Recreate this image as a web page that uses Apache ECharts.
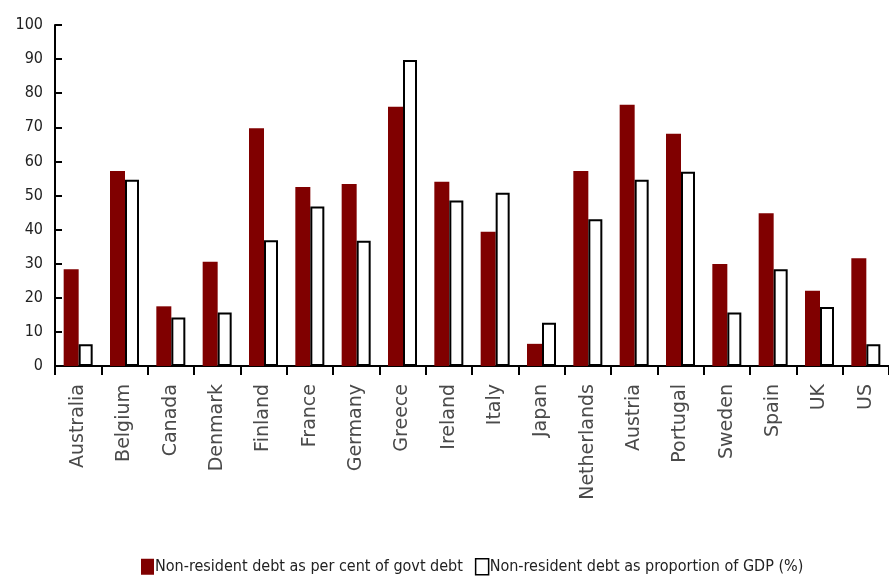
<!DOCTYPE html>
<html>
<head>
<meta charset="utf-8">
<script src="https://cdn.jsdelivr.net/npm/echarts@6/dist/echarts.min.js"></script>
<style>
html,body{margin:0;padding:0;background:#fff;}
#chart{width:889px;height:576px;}
</style>
</head>
<body>
<div id="chart"></div>
<script>
const categories = ["Australia","Belgium","Canada","Denmark","Finland","France","Germany","Greece","Ireland","Italy","Japan","Netherlands","Austria","Portugal","Sweden","Spain","UK","US"];
const pctGovtDebt = [28.4,57.2,17.5,30.6,69.7,52.5,53.4,76.0,54.0,39.4,6.5,57.2,76.6,68.1,29.9,44.8,22.1,31.6];
const pctGDP = [6.4,54.6,14.2,15.7,36.9,46.8,36.7,89.7,48.5,50.8,12.7,43.0,54.6,57.0,15.7,28.4,17.3,6.4];
const seriesNames = ["Non-resident debt as per cent of govt debt","Non-resident debt as proportion of GDP (%)"];

const chart = echarts.init(document.getElementById('chart'));
const narrow = '"DejaVu Sans Condensed", "Liberation Sans Narrow", sans-serif';
chart.setOption({
  animation: false,
  backgroundColor: '#fff',
  grid: {left: 55, right: -8, top: 25, bottom: 210, containLabel: false},
  legend: {
    top: 553, left: 136,
    itemWidth: 13, itemHeight: 16, itemGap: 12, icon: 'rect',
    textStyle: {fontFamily: narrow, fontSize: 16, color: '#222', padding: [0,0,0,-4]},
    data: [
      {name: seriesNames[0], itemStyle: {color: '#800000', borderWidth: 0}},
      {name: seriesNames[1], itemStyle: {color: '#fff', borderColor: '#000', borderWidth: 1.5}}
    ]
  },
  xAxis: {
    type: 'category',
    data: categories,
    axisLine: {lineStyle: {color: '#000', width: 2}},
    axisTick: {show: true, length: 9, lineStyle: {color: '#000', width: 2}},
    axisLabel: {rotate: 90, interval: 0, margin: 18, fontFamily: 'DejaVu Sans, sans-serif', fontSize: 19, color: '#4a4a4a'}
  },
  yAxis: {
    type: 'value', min: 0, max: 100, interval: 10,
    splitLine: {show: false},
    axisLine: {show: true, lineStyle: {color: '#000', width: 2}},
    axisTick: {show: true, inside: true, length: 7, lineStyle: {color: '#000', width: 2}},
    axisLabel: {margin: 12, fontFamily: narrow, fontSize: 16, color: '#222'}
  },
  series: [
    {name: seriesNames[0], type: 'bar', data: pctGovtDebt, barWidth: 15, barGap: '0%',
     itemStyle: {color: '#800000'}},
    {name: seriesNames[1], type: 'bar', data: pctGDP, barWidth: 14, barGap: '0%',
     itemStyle: {color: '#fff', borderColor: '#000', borderWidth: 2}}
  ]
});
</script>
</body>
</html>
